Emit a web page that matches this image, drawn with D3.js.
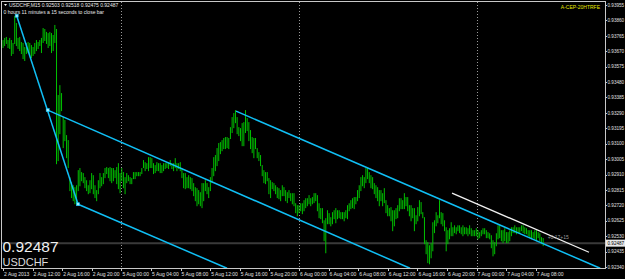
<!DOCTYPE html>
<html>
<head>
<meta charset="utf-8">
<script src="https://cdn.jsdelivr.net/npm/d3@7"></script>
<style>
  body { margin: 0; background: #000; }
  svg { display: block; }
</style>
</head>
<body>
<svg id="chart" width="625" height="279"></svg>
<script>
// USDCHF M15 bars, highs and lows in points (price x 1e5), oldest first
const highPts = [
  93739,93752,93758,93739,93752,93739,93721,93887,93844,93752,
  93758,93727,93721,93696,93721,93727,93721,93708,93696,93721,
  93739,93727,93739,93752,93813,93807,93789,93782,93789,93782,
  93770,93832,93807,93400,93461,93412,93264,93246,93153,93122,
  92894,92863,92844,92832,92844,92937,92950,92925,92919,92894,
  92875,92844,92875,92919,92906,92844,92814,92875,92919,92894,
  92919,92950,92956,92950,92956,92950,92950,92937,92956,92980,
  92919,92950,92925,92894,92919,92906,92894,92888,92925,92925,
  92925,92925,92925,92950,92999,92986,92980,93017,93017,93011,
  92980,92968,92986,92980,92980,92968,92980,92980,92980,92986,
  92999,92980,92980,93011,92980,92980,92986,92950,92919,92919,
  92894,92906,92894,92888,92857,92832,92826,92814,92801,92857,
  92857,92875,92857,92832,92894,92950,93017,93030,93073,93104,
  93110,93122,93135,93141,93141,93135,93202,93264,93289,93307,
  93264,93202,93196,93227,93233,93307,93258,93233,93184,93141,
  93135,93135,93073,93048,93030,92968,92937,92925,92925,92888,
  92875,92863,92857,92844,92832,92826,92814,92844,92832,92814,
  92801,92814,92795,92795,92795,92733,92721,92721,92733,92733,
  92752,92764,92764,92783,92764,92771,92795,92795,92783,92733,
  92703,92703,92628,92641,92690,92672,92647,92678,92690,92703,
  92690,92690,92678,92678,92678,92690,92721,92733,92752,92764,
  92771,92771,92814,92844,92894,92906,92894,92950,92950,92925,
  92906,92894,92857,92844,92832,92814,92814,92795,92826,92752,
  92721,92703,92709,92690,92690,92703,92721,92764,92764,92752,
  92795,92771,92771,92721,92721,92703,92703,92659,92709,92752,
  92740,92678,92647,92505,92493,92474,92487,92616,92628,92678,
  92659,92752,92678,92672,92628,92585,92567,92579,92616,92585,
  92597,92585,92597,92597,92585,92597,92585,92585,92579,92597,
  92579,92567,92567,92579,92567,92555,92567,92579,92579,92567,
  92555,92548,92536,92505,92493,92548,92597,92597,92567,92567,
  92579,92555,92555,92567,92585,92585,92597,92585,92585,92585,
  92597,92597,92585,92579,92567,92567,92567,92555,92567,92567,
  92555,92548,92524,92518
];
const lowPts = [
  93696,93708,93721,93696,93690,93647,93659,93721,93708,93690,
  93677,93659,93628,93616,93659,93665,93647,93634,93647,93659,
  93677,93690,93708,93665,93727,93739,93721,93696,93708,93665,
  93677,93727,92980,92999,93165,93307,93079,93122,93017,92956,
  92814,92771,92752,92733,92727,92814,92844,92875,92863,92832,
  92814,92795,92801,92826,92795,92771,92752,92795,92832,92844,
  92857,92894,92919,92894,92875,92863,92875,92894,92857,92826,
  92801,92875,92832,92795,92863,92875,92857,92857,92888,92888,
  92906,92906,92906,92919,92956,92937,92950,92937,92956,92956,
  92919,92925,92937,92937,92925,92925,92937,92950,92956,92950,
  92968,92950,92937,92956,92937,92950,92937,92894,92832,92826,
  92832,92832,92826,92814,92783,92752,92721,92733,92721,92709,
  92752,92814,92795,92771,92814,92863,92906,92937,92968,92999,
  93042,93060,93073,93073,93079,93073,93135,93172,93202,93233,
  93165,93153,93122,93091,93091,93172,93184,93122,93073,93048,
  93017,93073,93017,92999,92968,92906,92863,92857,92875,92795,
  92771,92826,92814,92795,92771,92764,92752,92783,92783,92752,
  92740,92771,92752,92733,92721,92678,92659,92678,92690,92672,
  92690,92709,92721,92733,92721,92733,92740,92752,92690,92647,
  92641,92616,92505,92431,92610,92610,92597,92610,92641,92616,
  92641,92647,92641,92641,92628,92647,92641,92690,92703,92709,
  92703,92733,92752,92771,92814,92844,92832,92863,92888,92863,
  92832,92826,92795,92771,92752,92721,92752,92721,92740,92678,
  92659,92659,92628,92567,92597,92641,92647,92690,92703,92703,
  92703,92721,92690,92659,92628,92647,92567,92610,92628,92659,
  92672,92647,92487,92425,92370,92363,92400,92443,92555,92597,
  92616,92647,92610,92597,92567,92443,92487,92517,92536,92536,
  92555,92548,92567,92555,92548,92536,92548,92548,92536,92548,
  92536,92536,92536,92536,92517,92524,92536,92548,92548,92524,
  92524,92517,92462,92412,92425,92474,92517,92524,92505,92493,
  92505,92493,92493,92505,92536,92555,92555,92548,92555,92555,
  92567,92555,92548,92548,92536,92524,92517,92524,92517,92505,
  92524,92505,92487,92475
];

// hours since 2 Aug 08:00 (trading hours only)
const timeTickHours = [0,4,8,12,16,20,24,28,32,36,40,44,48,52,56,60,64,68,72];
const timeTickLabels = [
  "2 Aug 2013","2 Aug 12:00","2 Aug 16:00","2 Aug 20:00",
  "5 Aug 00:00","5 Aug 04:00","5 Aug 08:00","5 Aug 12:00","5 Aug 16:00","5 Aug 20:00",
  "6 Aug 00:00","6 Aug 04:00","6 Aug 08:00","6 Aug 12:00","6 Aug 16:00","6 Aug 20:00",
  "7 Aug 00:00","7 Aug 04:00","7 Aug 08:00"
];
const daySeparatorHours = [16, 40, 64];

const priceTicks = [
  0.93955,0.93860,0.93765,0.93670,0.93575,0.93480,0.93385,0.93290,0.93195,
  0.93100,0.93005,0.92910,0.92815,0.92720,0.92625,0.92530,0.92435,0.92340
];
const lastPrice = 0.92487;
const ohlc = [0.92503, 0.92518, 0.92475, 0.92487];

// drawn objects: [hour, price] end points
const channelLines = [
  [[1.85, 0.93889], [10.14, 0.92727]],
  [[6.04, 0.93307], [55.0, 0.92332]],
  [[10.14, 0.92727], [30.27, 0.92332]],
  [[31.49, 0.93301], [80.7, 0.92332]]
];
const whiteLine = [[60.68, 0.92795], [79.19, 0.92431]];
const anchorPoints = [[1.85, 0.93889], [6.04, 0.93307], [10.14, 0.92727]];
const lastBarHour = 73;

const W = 625, H = 279;
const plot = { left: 2, right: 605, top: 2, bottom: 268 };
const font = 'Liberation Sans, Arial, sans-serif';

const svg = d3.select('#chart');
svg.append('rect').attr('width', W).attr('height', H).attr('fill', '#000');

const x = d3.scaleLinear().domain([0, 72]).range([3, 535.8]);
const y = d3.scaleLinear().domain([0.92340, 0.93955]).range([267, 5]);

svg.append('clipPath').attr('id', 'plotClip')
  .append('rect')
  .attr('x', plot.left).attr('y', plot.top)
  .attr('width', plot.right - plot.left).attr('height', plot.bottom - plot.top);

const g = svg.append('g').attr('clip-path', 'url(#plotClip)');

// day separators
g.selectAll('line.sep')
  .data(daySeparatorHours)
  .enter().append('line')
  .attr('class', 'sep')
  .attr('x1', d => Math.round(x(d)) + 0.5).attr('x2', d => Math.round(x(d)) + 0.5)
  .attr('y1', plot.top).attr('y2', plot.bottom)
  .attr('stroke', '#9a9a9a').attr('stroke-width', 1)
  .attr('stroke-dasharray', '1,2');

// bid line
g.append('line')
  .attr('x1', plot.left).attr('x2', plot.right)
  .attr('y1', y(lastPrice)).attr('y2', y(lastPrice))
  .attr('stroke', '#3a3a3a').attr('stroke-width', 2);

// bars
const n = highPts.length;
const barHour = i => i / (n - 1) * lastBarHour;
g.selectAll('line.bar')
  .data(highPts.map((h, i) => ({ i, hi: h / 1e5, lo: lowPts[i] / 1e5 })))
  .enter().append('line')
  .attr('class', 'bar')
  .attr('x1', d => x(barHour(d.i))).attr('x2', d => x(barHour(d.i)))
  .attr('y1', d => y(d.hi)).attr('y2', d => y(d.lo) + 1)
  .attr('stroke', '#00c000').attr('stroke-width', 1);

// channel lines
const line = d3.line().x(d => x(d[0])).y(d => y(d[1]));
g.selectAll('path.chan')
  .data(channelLines)
  .enter().append('path')
  .attr('class', 'chan')
  .attr('d', line)
  .attr('fill', 'none').attr('stroke', '#10bff5').attr('stroke-width', 1.5);

g.append('path')
  .attr('d', line(whiteLine))
  .attr('fill', 'none').attr('stroke', '#f0f0f0').attr('stroke-width', 1.3);

g.selectAll('rect.anchor')
  .data(anchorPoints)
  .enter().append('rect')
  .attr('class', 'anchor')
  .attr('x', d => x(d[0]) - 1.5).attr('y', d => y(d[1]) - 1.5)
  .attr('width', 3).attr('height', 3)
  .attr('fill', '#9fefff').attr('stroke', '#10bff5').attr('stroke-width', 0.6);

g.append('text')
  .attr('x', x(73.6)).attr('y', y(0.92511))
  .attr('fill', '#9a9a9a').attr('font-family', font)
  .attr('font-size', 5).text('+0.17+15');

// frame
svg.append('rect')
  .attr('x', plot.left - 0.5).attr('y', plot.top - 0.5)
  .attr('width', plot.right - plot.left + 1).attr('height', plot.bottom - plot.top + 1)
  .attr('fill', 'none').attr('stroke', '#c8c8c8').attr('stroke-width', 1);

// price axis
const yAxis = svg.append('g');
yAxis.selectAll('line')
  .data(priceTicks)
  .enter().append('line')
  .attr('x1', plot.right).attr('x2', plot.right + 2)
  .attr('y1', d => Math.round(y(d)) + 0.5).attr('y2', d => Math.round(y(d)) + 0.5)
  .attr('stroke', '#c8c8c8');
yAxis.selectAll('text')
  .data(priceTicks)
  .enter().append('text')
  .attr('x', plot.right + 2.5).attr('y', d => y(d) + 1.7)
  .attr('fill', '#e0e0e0').attr('font-family', font)
  .attr('font-size', 4.6).text(d => d.toFixed(5));

// last price tag
svg.append('rect')
  .attr('x', plot.right + 1).attr('y', y(lastPrice) - 3.5)
  .attr('width', 19).attr('height', 7).attr('fill', '#e8e8e8');
svg.append('text')
  .attr('x', plot.right + 2.5).attr('y', y(lastPrice) + 1.7)
  .attr('fill', '#000').attr('font-family', font)
  .attr('font-size', 4.6).text(lastPrice.toFixed(5));

// time axis
const xAxis = svg.append('g');
xAxis.selectAll('line')
  .data(timeTickHours)
  .enter().append('line')
  .attr('x1', d => Math.round(x(d)) + 0.5).attr('x2', d => Math.round(x(d)) + 0.5)
  .attr('y1', plot.bottom).attr('y2', plot.bottom + 3)
  .attr('stroke', '#c8c8c8');
xAxis.selectAll('text')
  .data(timeTickHours)
  .enter().append('text')
  .attr('x', d => x(d) + 1).attr('y', plot.bottom + 8)
  .attr('fill', '#e0e0e0').attr('font-family', font)
  .attr('font-size', 5).text((d, i) => timeTickLabels[i]);

// header texts
svg.append('path').attr('d', 'M4,4 L7,4 L5.5,6 Z').attr('fill', '#fff');
svg.append('text').attr('x', 9).attr('y', 7).attr('fill', '#e8e8e8')
  .attr('font-family', font).attr('font-size', 5)
  .text('USDCHF,M15  ' + ohlc.map(v => v.toFixed(5)).join(' '));
svg.append('text').attr('x', 3.5).attr('y', 14).attr('fill', '#e8e8e8')
  .attr('font-family', font).attr('font-size', 5)
  .text('0 hours 11 minutes a 15 seconds to close bar');
svg.append('text').attr('x', 600).attr('y', 9).attr('text-anchor', 'end')
  .attr('fill', '#e6e600').attr('font-family', font).attr('font-size', 5)
  .text('A-CEP-20HTRFE');

svg.append('text').attr('x', 2.5).attr('y', 251.5).attr('fill', '#f0f0f0')
  .attr('font-family', font).attr('font-size', 15.5)
  .text(lastPrice.toFixed(5));
svg.append('text').attr('x', 2.5).attr('y', 266).attr('fill', '#dcdcdc')
  .attr('font-family', font).attr('font-size', 11)
  .text('USDCHF');
</script>
</body>
</html>
